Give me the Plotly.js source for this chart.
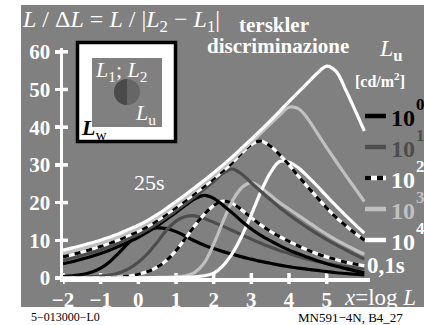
<!DOCTYPE html>
<html><head><meta charset="utf-8">
<script src="https://cdn.plot.ly/plotly-3.0.1.min.js"></script>
<style>html,body{margin:0;padding:0;background:#fff}#chart{width:424px;height:325px}</style>
</head><body><div id="chart"></div>
<script>
// x = log L (cd/m^2)
const xs = [-2,-1.75,-1.5,-1.25,-1,-0.75,-0.5,-0.25,0,0.25,0.5,0.75,1,1.25,1.5,1.75,2,2.25,2.5,2.75,3,3.25,3.5,3.75,4,4.25,4.5,4.75,5,5.25,5.5,5.75,6];

// 0,1 s curves (L/ΔL) for Lu = 10^0 ... 10^4
const black01  = [0.4,0.6,0.9,1.5,2.6,4.4,6.8,9.4,11.5,12.8,13.3,13.1,12.3,11.1,9.8,8.7,7.8,7.0,6.3,5.6,5.0,4.4,3.9,3.4,3.0,2.6,2.3,2.0,1.7,1.4,1.2,1.0,0.8];
const dgray01  = [0.1,0.15,0.2,0.3,0.5,0.8,1.4,2.5,4.2,6.5,9.5,12.7,15.1,16.3,16.5,15.8,14.8,13.7,12.6,11.4,10.3,9.2,8.2,7.3,6.5,5.7,5.0,4.4,3.9,3.4,3.0,2.7,2.4];
const dashed01 = [0,0,0,0,0.05,0.1,0.25,0.5,1.0,1.7,2.9,4.7,7.3,10.5,13.9,16.9,19.2,20.4,19.8,18.0,16.0,14.1,12.4,11.0,9.7,8.5,7.4,6.4,5.6,4.9,4.2,3.7,3.2];
const lgray01  = [0,0,0,0,0,0,0.05,0.05,0.1,0.1,0.15,0.2,0.3,0.6,1.5,4.0,9.0,15.0,20.5,24.0,25.3,24.0,22.0,20.0,18.3,16.6,14.9,13.2,11.6,10.1,8.8,7.5,6.3];
const white01  = [0,0,0,0,0,0,0,0,0.05,0.05,0.1,0.1,0.15,0.2,0.3,0.6,1.3,3.3,6.6,11.2,16.8,22.8,27.8,30.9,30.7,29.2,26.9,24.4,21.7,19.1,16.6,14.2,11.9];

// 25 s curves
const black25  = [3.8,4.3,5.0,5.7,6.5,7.4,8.5,9.6,10.8,12.2,13.8,15.6,17.4,19.3,21.0,21.9,21.1,19.3,17.2,15.0,13.0,11.3,9.9,8.6,7.4,6.4,5.5,4.6,3.8,3.1,2.5,1.9,1.4];
const dgray25  = [4.7,5.3,6.0,6.7,7.5,8.4,9.4,10.5,11.6,12.9,14.4,16.1,17.9,19.7,21.6,23.6,25.6,27.8,28.9,27.5,25.2,23.0,20.8,18.7,16.8,15.0,13.3,11.7,10.2,8.8,7.5,6.2,5.0];
const dashed25 = [5.6,6.2,6.9,7.6,8.4,9.3,10.2,11.3,12.4,13.7,15.2,16.9,18.7,20.5,22.4,24.3,26.3,28.4,30.6,33.2,35.4,36.3,35.0,32.7,30.0,27.0,24.1,21.3,18.6,16.1,13.9,11.9,10.0];
const lgray25  = [6.6,7.2,7.8,8.5,9.2,10.1,11.0,12.1,13.2,14.5,16.0,17.7,19.5,21.3,23.2,25.1,27.1,29.2,31.4,33.7,36.0,38.4,40.8,43.2,45.3,44.9,42.2,38.4,34.6,30.9,27.3,23.8,20.3];
const white25  = [7.4,8.0,8.6,9.3,10.0,10.9,11.8,12.9,14.0,15.3,16.8,18.5,20.3,22.1,24.0,25.9,27.9,30.0,32.2,34.5,36.8,39.2,41.7,44.2,46.8,49.3,51.8,54.3,56.2,54.8,50.0,44.6,39.0];

const xTicks = [-2,-1,0,1,2,3,4,5];
const xTickText = ['\u22122','\u22121','0','1','2','3','4','5'];
const yTicks = [0,10,20,30,40,50,60];
const lumExponents = ['0','1','2','3','4'];

// ---- styling ----
const L=63, R=370, T=48, B=278;
const px = v => (v-L)/(R-L);
const py = v => (B-v)/(B-T);
const BG='#808080', DG='#4d4d4d', LG='#c0c0c0', W='#ffffff', K='#000000';
const FONT='"Liberation Serif", "Times New Roman", serif';
const LW=3.2;

function tr(y, color, dash){
  return {x:xs, y:y, type:'scatter', mode:'lines', hoverinfo:'skip', showlegend:false,
          line:{color:color, width:LW, shape:'spline', smoothing:1, dash:dash||'solid'}};
}
const data = [
  tr(black01,K), tr(dgray01,DG), tr(dashed01,W), tr(dashed01,K,'6px,6px'), tr(lgray01,LG), tr(white01,W),
  tr(black25,K), tr(dgray25,DG), tr(dashed25,W), tr(dashed25,K,'6px,6px'), tr(lgray25,LG), tr(white25,W)
];

const shapes = [];
shapes.push({type:'rect', xref:'paper', yref:'paper', x0:px(21), x1:px(424), y0:py(307), y1:py(5), fillcolor:BG, line:{width:0}, layer:'below'});
// x ticks crossing the axis
xTicks.forEach(v=>shapes.push({type:'line', xref:'x', yref:'paper', x0:v, x1:v, y0:-6/(B-T), y1:5/(B-T), line:{color:W,width:3.5}, layer:'below'}));
// inner halves of y ticks
yTicks.forEach(v=>shapes.push({type:'line', xref:'paper', yref:'y', x0:0, x1:5/(R-L), y0:v, y1:v, line:{color:W,width:3.5}, layer:'below'}));
// inset
shapes.push({type:'rect', xref:'paper', yref:'paper', x0:px(77.5), x1:px(175.5), y0:py(141.5), y1:py(42.5), fillcolor:W, line:{color:K,width:3.5}});
shapes.push({type:'rect', xref:'paper', yref:'paper', x0:px(92), x1:px(162), y0:py(127), y1:py(58), fillcolor:BG, line:{width:0}});
const cx=127, cy=92, r=13;
shapes.push({type:'circle', xref:'paper', yref:'paper', x0:px(cx-r), x1:px(cx+r), y0:py(cy+r), y1:py(cy-r), fillcolor:'#666666', line:{width:0}});
let pth='M '+px(cx)+','+py(cy-r);
for(let i=1;i<=24;i++){const a=Math.PI/2+Math.PI*i/24; pth+=' L '+px(cx+r*Math.cos(a))+','+py(cy-r*Math.sin(a));}
pth+=' Z';
shapes.push({type:'path', xref:'paper', yref:'paper', path:pth, fillcolor:'#4a4a4a', line:{width:0}});
// legend samples
const rows=[116,147,178,209,240];
const rowCol=[K,DG,W,LG,W];
const rowTxt=[K,DG,W,LG,W];
rows.forEach((ry,i)=>{
  shapes.push({type:'line', xref:'paper', yref:'paper', x0:px(365), x1:px(386), y0:py(ry), y1:py(ry), line:{color:rowCol[i], width:4.5}});
  if(i===2) shapes.push({type:'line', xref:'paper', yref:'paper', x0:px(365), x1:px(386), y0:py(ry), y1:py(ry), line:{color:K, width:4.5, dash:'6px,6px'}});
});

const ann = [];
function A(text, x, y, size, color, xanchor, opts){
  ann.push(Object.assign({text:text, xref:'paper', yref:'paper', x:px(x), y:py(y), xanchor:xanchor||'left', yanchor:'middle',
    showarrow:false, font:{family:FONT, size:size, color:color||W}}, opts||{}));
}
A('<i>L</i> / Δ<i>L</i> = <i>L</i> / |<i>L</i><sub>2</sub> − <i>L</i><sub>1</sub>|', 20, 21, 24, W);
A('<b>terskler</b>', 237, 25, 21, W);
A('<b>discriminazione</b>', 351, 46, 21, W, 'right');
A('<i>L</i><b><sub>u</sub></b>', 377, 50, 24, W);
A('<b>[cd/m<sup>2</sup>]</b>', 353, 80, 16, W);
rows.forEach((ry,i)=>{
  A('<b>10</b>', 389, ry+2, 24, rowTxt[i]);
  A('<b>'+lumExponents[i]+'</b>', 414, ry-12, 17, rowTxt[i]);
});
A('<b>0,1s</b>', 365, 265, 23, W);
A('25s', 149, 182, 22, W, 'center');
A('<i>x</i>=log <i>L</i>', 342, 297, 23, W);
A('<i>L</i><sub>1</sub>; <i>L</i><sub>2</sub>', 93, 71, 22, W);
A('<i>L</i><sub>u</sub>', 133, 114, 22, W);
A('<b><i>L</i></b><sub>w</sub>', 79, 129, 22, K);
A('5\u2212013000\u2212L0', 29, 317, 12, K);
A('MN591\u22124N, B4_27', 405, 317, 13, K, 'right');

const axBase = {showgrid:false, zeroline:false, showline:true, linecolor:W, linewidth:3.5, ticks:'outside', ticklen:5,
  tickwidth:3.5, tickcolor:W, tickfont:{family:FONT, size:21, color:W, weight:'bold'}, layer:'below traces', fixedrange:true};
const layout = {
  width:424, height:325, margin:{l:L, r:424-R, t:T, b:325-B, pad:0},
  paper_bgcolor:W, plot_bgcolor:'rgba(0,0,0,0)',
  xaxis:Object.assign({}, axBase, {range:[-2,6.15], tickvals:xTicks, ticktext:xTickText, ticks:'', ticklen:0}),
  yaxis:Object.assign({}, axBase, {range:[0,61], tickvals:yTicks}),
  shapes:shapes, annotations:ann, showlegend:false
};
Plotly.newPlot('chart', data, layout, {displayModeBar:false, staticPlot:true});
</script></body></html>
